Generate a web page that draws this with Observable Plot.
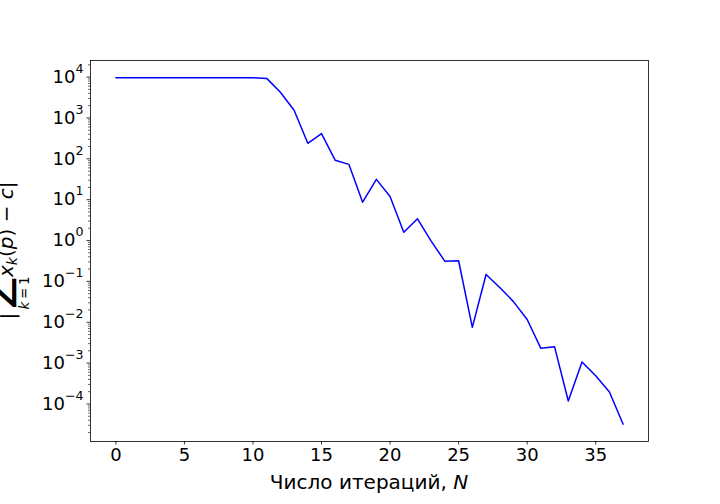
<!DOCTYPE html>
<html><head><meta charset="utf-8">
<script src="https://cdn.jsdelivr.net/npm/d3@7"></script>
<script src="https://cdn.jsdelivr.net/npm/@observablehq/plot@0.6"></script>
<style>
html,body{margin:0;padding:0;background:#fff;}
svg{display:block;font-family:"DejaVu Sans",sans-serif;}
</style></head><body><div id="chart"></div>
<script>
// Iteration number N
const iterations = [0,1,2,3,4,5,6,7,8,9,10,11,12,13,14,15,16,17,18,19,20,21,22,23,24,25,26,27,28,29,30,31,32,33,34,35,36,37];
// |sum x_k(p) - c|
const errors = [9600,9600,9600,9600,9600,9600,9600,9600,9600,9600,9600,9300,
  4250,1550,240,415,92,73,8.7,31.4,12,1.6,3.4,0.97,0.31,0.32,0.0075,0.147,0.071,
  0.032,0.0117,0.0023,0.0025,0.000118,0.00107,0.00049,0.000197,0.000032];
const xTicks = [0,5,10,15,20,25,30,35];
const yExponents = [-4,-3,-2,-1,0,1,2,3,4];
const yMajor = yExponents.map(e => Math.pow(10, e));

const data = iterations.map((n, i) => ({N: n, err: errors[i]}));

// matplotlib-like autoscale margins (5%)
const xMin = d3.min(iterations), xMax = d3.max(iterations);
const xPad = (xMax - xMin) * 0.05;
const lMin = Math.log10(d3.min(errors)), lMax = Math.log10(d3.max(errors));
const lPad = (lMax - lMin) * 0.05;
const yLo = Math.pow(10, lMin - lPad), yHi = Math.pow(10, lMax + lPad);

const yMinor = [];
for (let e = -5; e <= 4; e++) for (let m = 2; m <= 9; m++) {
  const v = m * Math.pow(10, e);
  if (v >= yLo && v <= yHi) yMinor.push(v);
}

const chart = Plot.plot({
  width: 720, height: 504,
  marginLeft: 90, marginRight: 72, marginTop: 60, marginBottom: 63,
  style: {fontFamily: '"DejaVu Sans", sans-serif', fontSize: "18px", color: "black", background: "white", overflow: "visible"},
  x: {domain: [xMin - xPad, xMax + xPad]},
  y: {type: "log", domain: [yLo, yHi]},
  marks: [
    Plot.axisX({ticks: xTicks, tickSize: 3.5, tickPadding: 3.5, label: null, fontSize: 18, strokeWidth: 0.8, tickFormat: d => String(d)}),
    Plot.axisY({ticks: yMinor, tickSize: 2, tickFormat: () => "", label: null, strokeWidth: 0.6}),
    Plot.axisY({ticks: yMajor, tickSize: 3.5, tickPadding: 3.5, label: null, fontSize: 18, strokeWidth: 0.8,
      tickFormat: d => "10^" + String(Math.round(Math.log10(d))).replace("-", "\u2212")}),
    Plot.line(data, {x: "N", y: "err", stroke: "#0000ff", strokeWidth: 1.5}),
    Plot.frame({stroke: "black", strokeWidth: 0.8})
  ]
});
document.getElementById("chart").appendChild(chart);

const svg = d3.select(chart);
// superscript exponents on y tick labels
svg.selectAll('g[aria-label="y-axis tick label"] text').each(function () {
  const t = this.textContent;
  if (!t.includes("^")) return;
  const [base, exp] = t.split("^");
  const s = d3.select(this);
  s.text(base);
  s.append("tspan").attr("dy", -10).attr("font-size", 12.6).text(exp);
});

// x-axis label
const xl = svg.append("text").attr("x", 369).attr("y", 489).attr("text-anchor", "middle")
  .attr("font-size", 20).attr("fill", "black").text("Число итераций, ");
xl.append("tspan").attr("font-style", "italic").text("N");

// y-axis label (partly clipped, as in the original)
const yl = svg.append("g").attr("transform", "translate(12,250) rotate(-90)").attr("fill", "black");
yl.append("text").attr("x", -66).attr("y", 3).attr("text-anchor", "middle").attr("font-size", 20).text("|");
yl.append("text").attr("x", -43).attr("y", -4).attr("text-anchor", "middle").attr("font-size", 44).text("\u2211");
const sub = yl.append("text").attr("x", -43).attr("y", 17).attr("text-anchor", "middle").attr("font-size", 13.5);
sub.append("tspan").attr("font-style", "italic").text("k");
sub.append("tspan").text("\u2009=\u20091");
const main = yl.append("text").attr("x", -27).attr("y", 1).attr("text-anchor", "start").attr("font-size", 20);
main.append("tspan").attr("font-style", "italic").text("x");
main.append("tspan").attr("font-style", "italic").attr("font-size", 14).attr("dy", 4).text("k");
main.append("tspan").attr("dy", -4).text("(");
main.append("tspan").attr("font-style", "italic").text("p");
main.append("tspan").text(") \u2212 ");
main.append("tspan").attr("font-style", "italic").text("c");
main.append("tspan").text("|");
</script></body></html>
